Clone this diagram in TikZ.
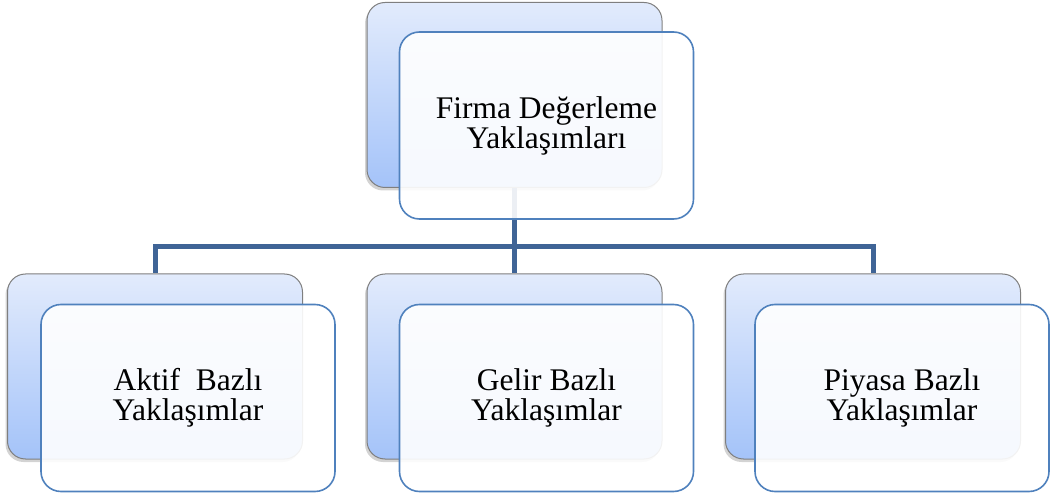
\documentclass[tikz,border=0pt]{standalone}
\usepackage{fontspec}
\setmainfont{Liberation Serif}
\usetikzlibrary{shadows}
\usepackage{xcolor}
\definecolor{boxtop}{HTML}{E2EBFC}
\definecolor{boxbot}{HTML}{A4C3F9}
\definecolor{boxrim}{HTML}{7F7F7F}
\definecolor{cardrim}{HTML}{4F81BD}
\definecolor{linkblue}{HTML}{3F6496}
\tikzset{
  backbox/.style={draw=boxrim, line width=1pt, rounded corners=18pt,
    top color=boxtop, bottom color=boxbot, minimum width=295pt,
    minimum height=185pt, inner sep=0pt,
    drop shadow={shadow xshift=-2pt, shadow yshift=-3pt, opacity=0.35}},
  frontbox/.style={draw=cardrim, line width=1.6pt, rounded corners=20pt,
    fill=white, fill opacity=0.9, text opacity=1, minimum width=294pt,
    minimum height=187pt, inner sep=0pt, align=center,
    font=\fontsize{31.5}{30}\selectfont},
  link/.style={draw=linkblue, line width=5pt}
}

\begin{document}
\begin{tikzpicture}[x=1pt,y=-1pt]
  \useasboundingbox (0,0) rectangle (1050,494);

  % back cards
  \node[backbox](backF) at (514.5,95) {};
  \node[backbox](backA) at (155,366.5) {};
  \node[backbox](backG) at (514.5,366.5) {};
  \node[backbox](backP) at (873,366.5) {};

  % tree lines
  \coordinate (j) at (514.5,247);
  \draw[link] (backF.south) -- (j);
  \draw[link] (j) -| (backA.north);
  \draw[link] (j) -| (backG.north);
  \draw[link] (j) -| (backP.north);

  % front cards
  \node[frontbox](firma) at (546.5,125.5) {Firma Değerleme\\Yaklaşımları};
  \node[frontbox](aktif) at (188,398) {Aktif\ \ Bazlı\\Yaklaşımlar};
  \node[frontbox](gelir) at (546.5,398) {Gelir Bazlı\\Yaklaşımlar};
  \node[frontbox](piyasa) at (902,398) {Piyasa Bazlı\\Yaklaşımlar};

\end{tikzpicture}
\end{document}
